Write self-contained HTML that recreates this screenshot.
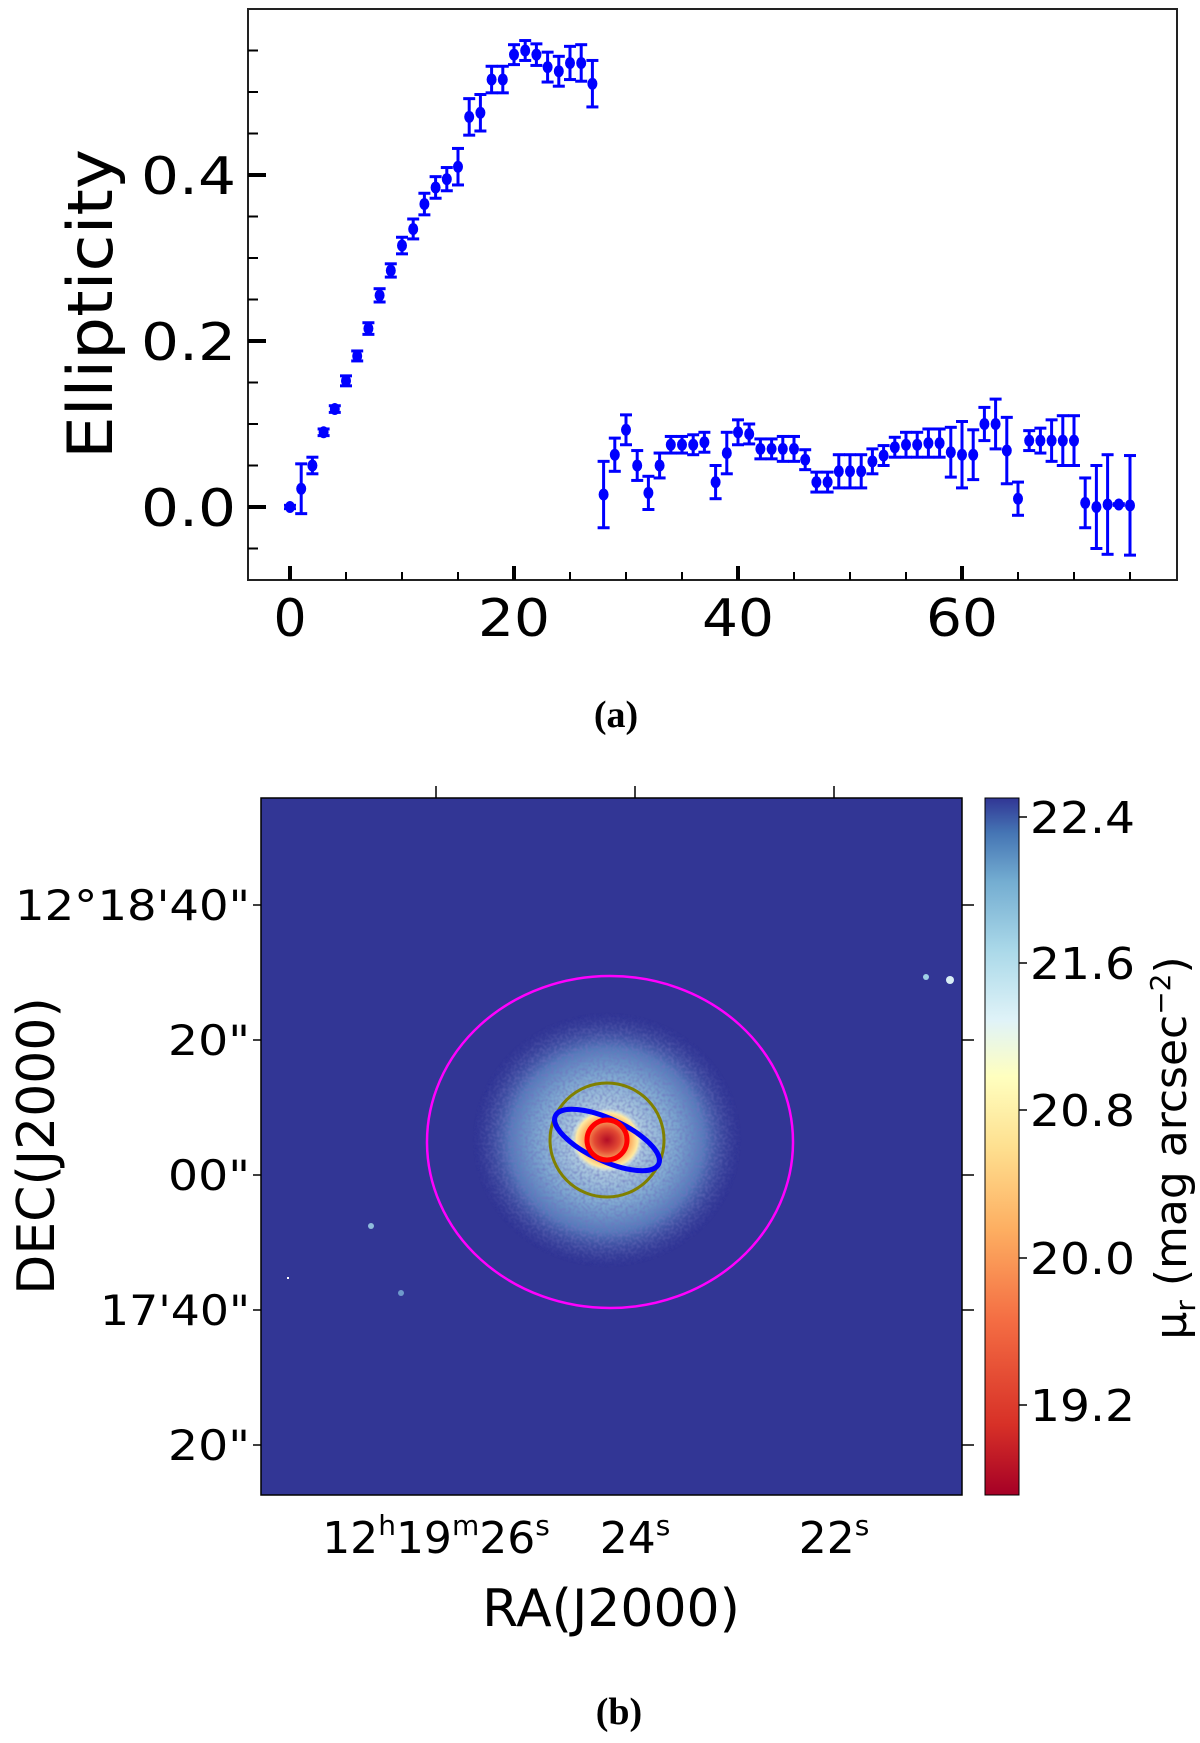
<!DOCTYPE html>
<html><head><meta charset="utf-8"><style>
html,body{margin:0;padding:0;background:#fff;}
svg{display:block;font-family:"DejaVu Sans","Liberation Sans",sans-serif;}
</style></head><body>
<svg id="fig" width="1200" height="1743" viewBox="0 0 1200 1743" xmlns="http://www.w3.org/2000/svg">
<defs>
<radialGradient id="halo" cx="50%" cy="50%" r="50%">
<stop offset="0" stop-color="#f0f9ec"/>
<stop offset="0.25" stop-color="#c4e4ee"/>
<stop offset="0.5" stop-color="#8dbddc"/>
<stop offset="0.72" stop-color="#5a85c0"/>
<stop offset="1" stop-color="#323695" stop-opacity="0"/>
</radialGradient>
<radialGradient id="core" cx="50%" cy="50%" r="50%">
<stop offset="0" stop-color="#b30d26"/>
<stop offset="0.35" stop-color="#e34a33"/>
<stop offset="0.65" stop-color="#fdae61"/>
<stop offset="0.85" stop-color="#fee9a0"/>
<stop offset="1" stop-color="#e0f3f8" stop-opacity="0"/>
</radialGradient>
<linearGradient id="cbar" x1="0" y1="1" x2="0" y2="0">
<stop offset="0" stop-color="#a50026"/>
<stop offset="0.1" stop-color="#d73027"/>
<stop offset="0.25" stop-color="#f46d43"/>
<stop offset="0.38" stop-color="#fdae61"/>
<stop offset="0.5" stop-color="#fee090"/>
<stop offset="0.6" stop-color="#ffffbf"/>
<stop offset="0.68" stop-color="#e0f3f8"/>
<stop offset="0.78" stop-color="#abd9e9"/>
<stop offset="0.88" stop-color="#74add1"/>
<stop offset="0.95" stop-color="#4575b4"/>
<stop offset="1" stop-color="#313695"/>
</linearGradient>
<filter id="noise" x="0" y="0" width="100%" height="100%">
<feTurbulence type="fractalNoise" baseFrequency="0.35" numOctaves="1" seed="3" result="t"/>
<feColorMatrix in="t" type="matrix" values="0 0 0 0 0.2  0 0 0 0 0.21  0 0 0 0 0.58  0 0 0 1.6 -0.6" result="n"/>
<feComposite in="n" in2="SourceGraphic" operator="in" result="m"/>
<feMerge><feMergeNode in="SourceGraphic"/><feMergeNode in="m"/></feMerge>
</filter>
</defs>
<g id="panelA"></g>
<text x="616" y="727" text-anchor="middle" font-family="Liberation Serif,serif" font-weight="bold" font-size="38">(a)</text>

<g>
<rect x="261" y="798" width="701" height="697" fill="#323695"/>
<ellipse cx="607" cy="1140" rx="135" ry="128" fill="url(#halo)" opacity="0.85" filter="url(#noise)"/>
<ellipse cx="607" cy="1140" rx="36" ry="32" fill="url(#core)"/>
<circle cx="926" cy="977" r="3" fill="#9fd0e6"/>
<circle cx="950" cy="980" r="4" fill="#d8eef5"/>
<circle cx="371" cy="1226" r="3" fill="#8fbcdc"/>
<circle cx="401" cy="1293" r="3" fill="#6f9acb"/>
<rect x="287" y="1277" width="2" height="2" fill="#fff"/>
<ellipse cx="610" cy="1142" rx="183" ry="166" fill="none" stroke="#ff00ff" stroke-width="2.5"/>
<ellipse cx="607" cy="1140" rx="57" ry="57" fill="none" stroke="#808000" stroke-width="3"/>
<ellipse cx="607" cy="1140" rx="57" ry="21" transform="rotate(25 607 1140)" fill="none" stroke="#0000ff" stroke-width="5"/>
<circle cx="607" cy="1140" r="20" fill="none" stroke="#ff0000" stroke-width="5"/>
<rect x="261" y="798" width="701" height="697" fill="none" stroke="#000" stroke-width="1.5"/>
<g stroke="#000" stroke-width="1.5">
<line x1="436" y1="798" x2="436" y2="786"/><line x1="635" y1="798" x2="635" y2="786"/><line x1="834" y1="798" x2="834" y2="786"/>
<line x1="962" y1="905" x2="974" y2="905"/><line x1="962" y1="1040" x2="974" y2="1040"/><line x1="962" y1="1175" x2="974" y2="1175"/><line x1="962" y1="1310" x2="974" y2="1310"/><line x1="962" y1="1445" x2="974" y2="1445"/>
<line x1="261" y1="905" x2="253" y2="905"/><line x1="261" y1="1040" x2="253" y2="1040"/><line x1="261" y1="1175" x2="253" y2="1175"/><line x1="261" y1="1310" x2="253" y2="1310"/><line x1="261" y1="1445" x2="253" y2="1445"/>
</g>
<g font-size="42" text-anchor="end">
<text x="250" y="920" textLength="235" lengthAdjust="spacingAndGlyphs">12°18'40"</text><text x="250" y="1055" textLength="82" lengthAdjust="spacingAndGlyphs">20"</text><text x="250" y="1190" textLength="82" lengthAdjust="spacingAndGlyphs">00"</text><text x="250" y="1325" textLength="150" lengthAdjust="spacingAndGlyphs">17'40"</text><text x="250" y="1460" textLength="82" lengthAdjust="spacingAndGlyphs">20"</text>
</g>
<g font-size="44" text-anchor="middle">
<text x="436" y="1553">12<tspan font-size="28" dy="-18">h</tspan><tspan dy="18">19</tspan><tspan font-size="28" dy="-18">m</tspan><tspan dy="18">26</tspan><tspan font-size="28" dy="-18">s</tspan></text>
<text x="635" y="1553">24<tspan font-size="28" dy="-18">s</tspan></text>
<text x="834" y="1553">22<tspan font-size="28" dy="-18">s</tspan></text>
</g>
<text x="611" y="1626" font-size="52" text-anchor="middle">RA(J2000)</text>
<text transform="translate(54 1146) rotate(-90)" font-size="52" text-anchor="middle">DEC(J2000)</text>
<rect x="985" y="798" width="34" height="697" fill="url(#cbar)" stroke="#000" stroke-width="1"/>
<g stroke="#000" stroke-width="1.5"><line x1="1019" y1="817" x2="1027" y2="817"/><line x1="1019" y1="963" x2="1027" y2="963"/><line x1="1019" y1="1110" x2="1027" y2="1110"/><line x1="1019" y1="1258" x2="1027" y2="1258"/><line x1="1019" y1="1405" x2="1027" y2="1405"/></g>
<g font-size="44">
<text x="1030" y="833" textLength="105" lengthAdjust="spacingAndGlyphs">22.4</text><text x="1030" y="979" textLength="105" lengthAdjust="spacingAndGlyphs">21.6</text><text x="1030" y="1126" textLength="105" lengthAdjust="spacingAndGlyphs">20.8</text><text x="1030" y="1274" textLength="105" lengthAdjust="spacingAndGlyphs">20.0</text><text x="1030" y="1421" textLength="105" lengthAdjust="spacingAndGlyphs">19.2</text>
</g>
<text transform="translate(1186 1148) rotate(-90)" font-size="44" text-anchor="middle">μ<tspan font-size="28" dy="9">r</tspan><tspan dy="-9"> (mag arcsec</tspan><tspan font-size="28" dy="-16">−2</tspan><tspan dy="16">)</tspan></text>
</g>
<text x="619" y="1724" text-anchor="middle" font-family="Liberation Serif,serif" font-weight="bold" font-size="38">(b)</text>
</svg>
<script>
const radius = [];
for (let i = 0; i <= 75; i++) radius.push(i);
const ellipticity = [0.0,0.022,0.05,0.09,0.118,0.152,0.182,0.215,0.255,0.285,0.315,0.335,0.365,0.385,0.395,0.41,0.47,0.475,0.515,0.515,0.545,0.55,0.545,0.53,0.525,0.535,0.535,0.51,
0.015,0.063,0.093,0.05,0.017,0.05,0.075,0.075,0.075,0.078,0.03,0.065,0.09,0.088,0.07,0.07,0.07,0.07,0.057,0.03,0.03,0.043,0.043,0.043,0.055,0.062,0.072,0.075,0.075,0.077,0.077,0.066,0.063,0.063,0.1,0.1,0.068,0.01,0.08,0.08,0.08,0.08,0.08,0.005,0.0,0.003,0.003,0.002];
const errors = [0.002,0.03,0.01,0.004,0.004,0.006,0.006,0.007,0.008,0.008,0.01,0.012,0.013,0.013,0.014,0.022,0.022,0.022,0.016,0.016,0.012,0.012,0.013,0.018,0.018,0.02,0.022,0.028,
0.04,0.02,0.018,0.018,0.02,0.015,0.01,0.01,0.012,0.012,0.02,0.025,0.015,0.012,0.012,0.012,0.015,0.015,0.012,0.012,0.012,0.02,0.02,0.02,0.015,0.012,0.012,0.015,0.015,0.017,0.017,0.03,0.04,0.03,0.02,0.03,0.04,0.02,0.012,0.015,0.025,0.03,0.03,0.03,0.05,0.06,0.001,0.06];
const xTicks = [0,20,40,60];
const yTicks = [0.0,0.2,0.4];
const NS="http://www.w3.org/2000/svg";
const X = v => 290 + v*11.2;
const Y = v => 507 - v*830;
const g = document.getElementById('panelA');
function mk(tag, attrs, parent){const e=document.createElementNS(NS,tag);for(const k in attrs)e.setAttribute(k,attrs[k]);(parent||g).appendChild(e);return e;}
const frame = mk('rect',{x:248,y:9,width:929,height:571,fill:'none',stroke:'#222','stroke-width':2});


for (let v=0; v<=75; v+=5){
  const major = v%20===0;
  const t = mk('line',{x1:X(v),x2:X(v),y1:580,y2:major?566:572,stroke:'#000','stroke-width':major?4:2});
  
  
}
for (let k=-1; k<=11; k++){
  const v=k*0.05; const major = k%4===0;
  const t = mk('line',{x1:248,x2:major?266:258,y1:Y(v),y2:Y(v),stroke:'#000','stroke-width':major?4:2});
  
  
}
xTicks.forEach(v=>{
  const t=mk('text',{x:X(v),y:636,'font-size':52,'text-anchor':'middle'}); t.textContent=v;
  if (v>0){ t.setAttribute('textLength', 72); t.setAttribute('lengthAdjust','spacingAndGlyphs'); }
  
  
});
yTicks.forEach(v=>{
  const t=mk('text',{x:236,y:Y(v)+19,'font-size':52,'text-anchor':'end',textLength:95,lengthAdjust:'spacingAndGlyphs'}); t.textContent=v.toFixed(1);
  
  
});
const yl=mk('text',{transform:'translate(112 304) rotate(-90)','font-size':62,'text-anchor':'middle',textLength:310,lengthAdjust:'spacingAndGlyphs'}); yl.textContent='Ellipticity';


radius.forEach((r,i)=>{
  const x=X(r), y=Y(ellipticity[i]), e=errors[i]*830;
  const grp=mk('g',{stroke:'#0000ff','stroke-width':3,fill:'#0000ff'});
  
  
  mk('line',{x1:x,x2:x,y1:y-e,y2:y+e},grp);
  mk('line',{x1:x-6,x2:x+6,y1:y-e,y2:y-e},grp);
  mk('line',{x1:x-6,x2:x+6,y1:y+e,y2:y+e},grp);
  mk('ellipse',{cx:x,cy:y,rx:5,ry:6,stroke:'none'},grp);
});
</script>
</body></html>
